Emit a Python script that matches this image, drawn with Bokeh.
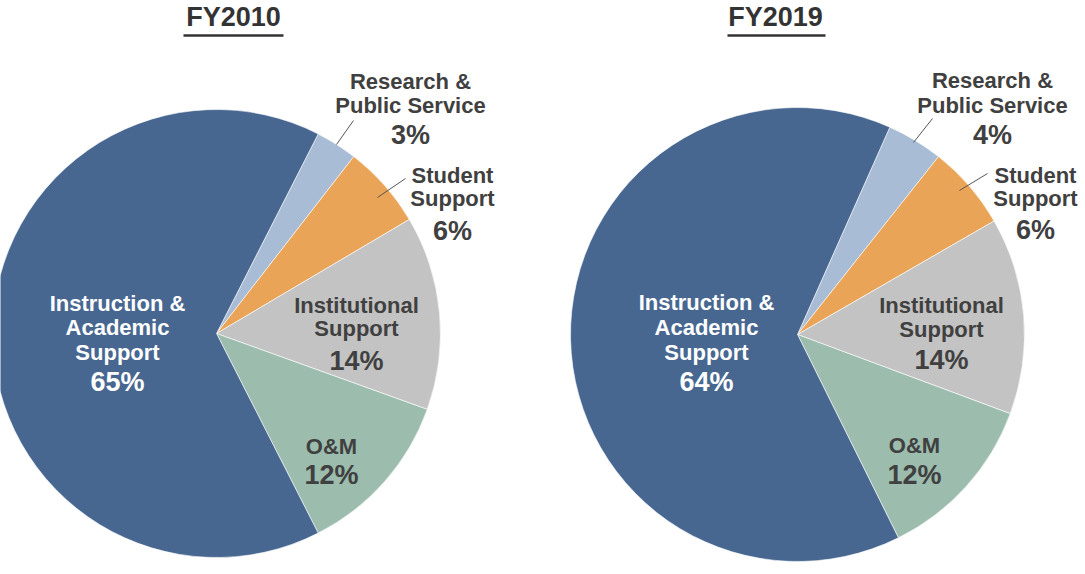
from bokeh.plotting import figure
from bokeh.models import Range1d, ColumnDataSource
from bokeh.embed import file_html
from bokeh.resources import INLINE
from bokeh.core.properties import value
import numpy as np

# ---------------- data ----------------
categories = ["Research & Public Service", "Student Support", "Institutional Support",
              "O&M", "Instruction & Academic Support"]
label_lines = [["Research &", "Public Service"], ["Student", "Support"],
               ["Institutional", "Support"], ["O&M"],
               ["Instruction &", "Academic", "Support"]]
fy2010 = [3, 6, 14, 12, 65]
fy2019 = [4, 6, 14, 12, 64]
titles = ["FY2010", "FY2019"]
colors = ["#A9BCD6", "#E9A457", "#C3C3C3", "#9CBCAE", "#476791"]

# ---------------- layout (image pixel coordinates) ----------------
W, H = 1080, 568
IMG_H = 574
FONT = "Liberation Sans"
TXT = "#404040"

pies = [
    dict(values=fy2010, title=titles[0], cx=216, cy=333, r=224, start=27,
         title_x=233, ul=(183, 283),
         lab_x=[410, 452, 356, 331, 117],
         lab_y=[[81, 105], [175, 198], [305, 328], [446], [303, 327, 352]],
         pct_y=[134, 230, 360, 474, 381],
         leaders=[((336, 144), (353, 120)), ((377, 197), (405, 178))]),
    dict(values=fy2019, title=titles[1], cx=797, cy=334, r=227, start=24,
         title_x=775, ul=(727, 825),
         lab_x=[992, 1035, 941, 914, 706],
         lab_y=[[80, 105], [175, 198], [305, 329], [445], [302, 327, 352]],
         pct_y=[134, 229, 359, 474, 381],
         leaders=[((913, 142), (932, 118)), ((959, 190), (987, 173))]),
]


def Y(y):
    return IMG_H - y


p = figure(width=W, height=H, output_backend="svg", toolbar_location=None,
           x_range=Range1d(0, W), y_range=Range1d(IMG_H - H, IMG_H),
           min_border=0, match_aspect=False)
p.axis.visible = False
p.grid.visible = False
p.outline_line_color = None
p.background_fill_color = "white"

for pie in pies:
    vals = np.array(pie["values"], dtype=float)
    frac = vals / vals.sum()
    cum = np.concatenate([[0], np.cumsum(frac)])
    theta0 = np.radians(90 - pie["start"])
    # slices run clockwise from theta0
    starts = theta0 - 2 * np.pi * cum[1:]
    ends = theta0 - 2 * np.pi * cum[:-1]
    src = ColumnDataSource(dict(start=starts, end=ends, color=colors,
                                cat=categories, val=pie["values"]))
    p.wedge(x=pie["cx"], y=Y(pie["cy"]), radius=pie["r"], start_angle="start",
            end_angle="end", fill_color="color", line_color="white",
            line_width=0.6, source=src)

    # title + underline
    p.text(x=[pie["title_x"]], y=[Y(16)], text=[pie["title"]],
           text_font=value(FONT), text_font_style="bold", text_font_size="27px",
           text_color="#333333", text_align="center", text_baseline="middle")
    p.segment(x0=[pie["ul"][0]], y0=[Y(35)], x1=[pie["ul"][1]], y1=[Y(35)],
              line_color="#333333", line_width=2.5)

    # leader lines
    for (a, b) in pie["leaders"]:
        p.segment(x0=[a[0]], y0=[Y(a[1])], x1=[b[0]], y1=[Y(b[1])],
                  line_color="#555555", line_width=1)

    # labels
    for i, lines in enumerate(label_lines):
        col = "white" if i == 4 else TXT
        xs = [pie["lab_x"][i]] * len(lines)
        ys = [Y(v) for v in pie["lab_y"][i]]
        p.text(x=xs, y=ys, text=lines, text_font=value(FONT),
               text_font_style="bold", text_font_size="22px", text_color=col,
               text_align="center", text_baseline="middle")
        p.text(x=[pie["lab_x"][i]], y=[Y(pie["pct_y"][i])],
               text=[f"{pie['values'][i]}%"], text_font=value(FONT),
               text_font_style="bold", text_font_size="27px", text_color=col,
               text_align="center", text_baseline="middle")

open("out.html", "w").write(file_html(p, INLINE))
